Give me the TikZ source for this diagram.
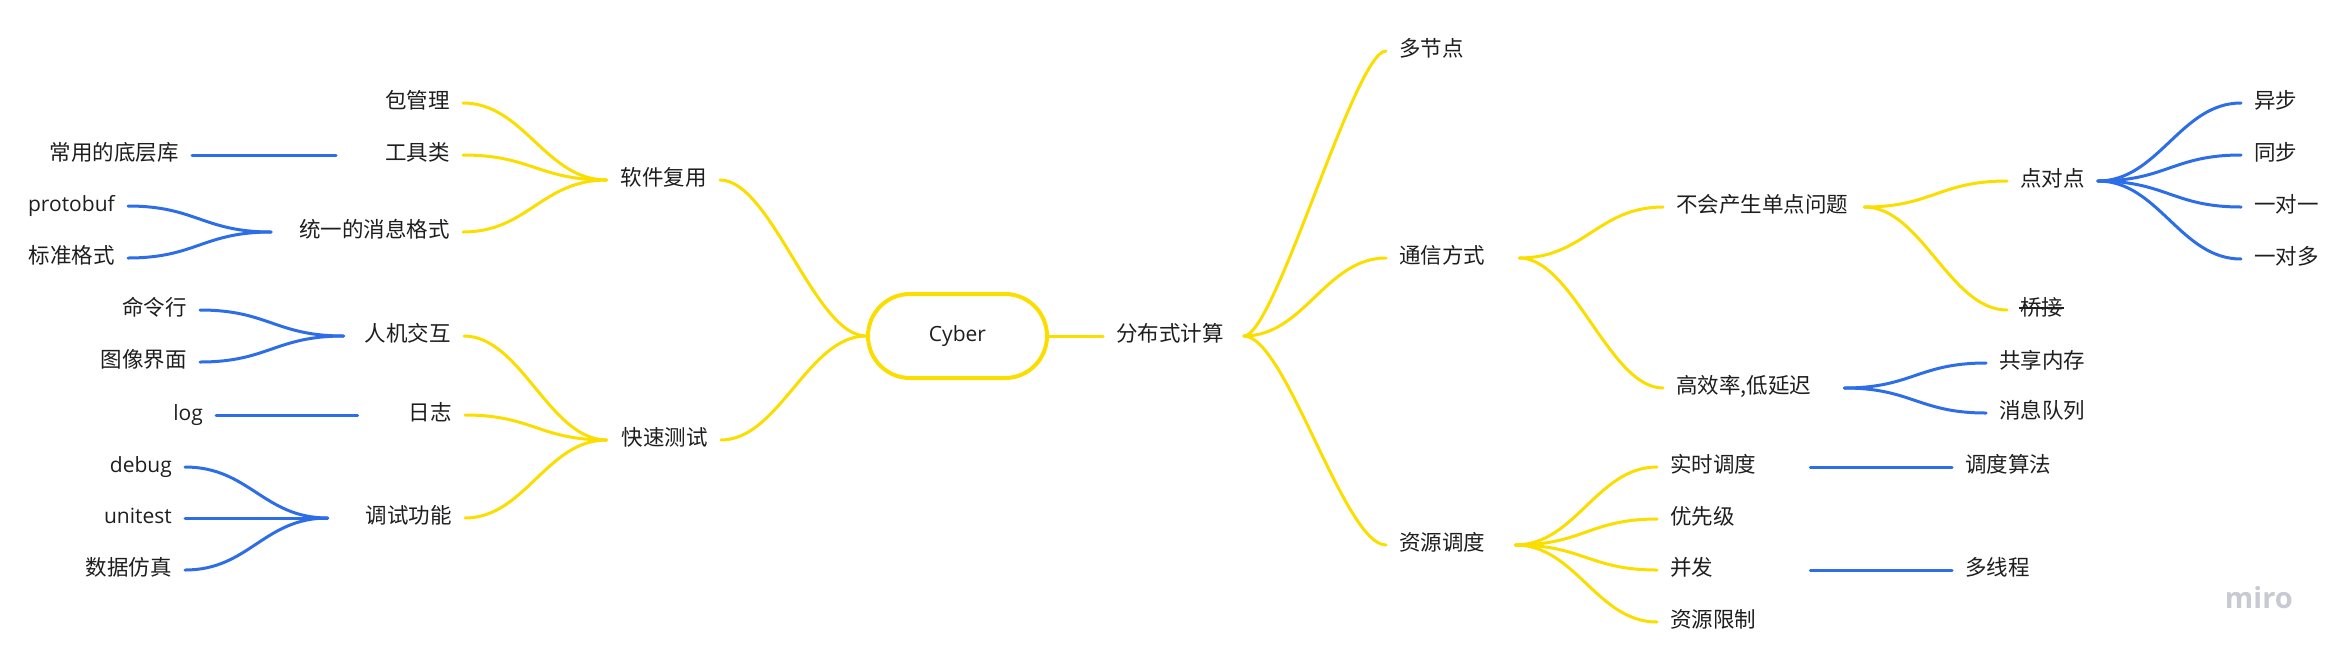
\documentclass[tikz,border=0pt]{standalone}
\usepackage{fontspec}
\usetikzlibrary{calc}
\setmainfont{Open Sans}
\newfontfamily\zhfont{Noto Sans CJK SC}
\definecolor{mmyellow}{RGB}{250,222,0}
\definecolor{mmblue}{RGB}{45,110,232}
\definecolor{mmink}{RGB}{30,30,30}
\definecolor{mmgray}{RGB}{200,201,210}

\begin{document}
\begin{tikzpicture}[x=1pt, y=-1pt,
  every node/.style={inner xsep=13pt, inner ysep=0pt, text height=16.5pt, text depth=5pt, text=mmink},
  zh/.style={font=\zhfont\fontsize{21.5}{26}\selectfont},
  en/.style={font=\fontsize{21}{25}\selectfont},
  hub/.style={en, draw=mmyellow, line width=4pt, rounded corners=42pt, minimum width=179pt, minimum height=84pt},
  yline/.style={draw=mmyellow, line width=3pt, line cap=round},
  bline/.style={draw=mmblue, line width=3pt, line cap=round},
  twig/.style={to path={let \p1=(\tikztostart), \p2=(\tikztotarget),
    \n1={(0.5*abs(\x2-\x1)-0.14*abs(\y2-\y1))*sign(\x2-\x1)} in
    .. controls +(\n1,0) and +(-\n1,0) .. (\tikztotarget) \tikztonodes}}]
\useasboundingbox (0,0) rectangle (2348,665);

% CENTRE
\node[hub] (cyber) at (957.5,336) {Cyber};

% RIGHT: distributed computing
\node[zh, anchor=west] (fenbu) at (1103,336) {分布式计算};
\node[zh, anchor=west] (duojd) at (1386,51) {多节点};
\node[zh, anchor=west] (tongxin) at (1386,258) {通信方式};
\node[zh, anchor=west] (ziyuan) at (1386,545) {资源调度};
\node[zh, anchor=west] (budan) at (1663,207) {不会产生单点问题};
\node[zh, anchor=west] (gaoxiao) at (1663,388) {高效率,低延迟};
\node[zh, anchor=west] (dianduid) at (2007,181) {点对点};
\node[zh, anchor=west] (qiaojie) at (2007,310) {桥接};
\node[zh, anchor=west] (yibu) at (2241,103) {异步};
\node[zh, anchor=west] (tongbu) at (2241,155) {同步};
\node[zh, anchor=west] (yiduiyi) at (2241,207) {一对一};
\node[zh, anchor=west] (yiduiduo) at (2241,259) {一对多};
\node[zh, anchor=west] (gongxiang) at (1986,363) {共享内存};
\node[zh, anchor=west] (xiaoxi) at (1986,413) {消息队列};
\node[zh, anchor=west] (shishi) at (1657,467) {实时调度};
\node[zh, anchor=west] (youxian) at (1657,519) {优先级};
\node[zh, anchor=west] (bingfa) at (1657,570) {并发};
\node[zh, anchor=west] (xianzhi) at (1657,622) {资源限制};
\node[zh, anchor=west] (suanfa) at (1952,467) {调度算法};
\node[zh, anchor=west] (duoxian) at (1952,570) {多线程};

% LEFT: reuse and testing
\node[zh, anchor=east] (ruanjian) at (720,180) {软件复用};
\node[zh, anchor=east] (kuaisu) at (721,440) {快速测试};
\node[zh, anchor=east] (baogl) at (463,103) {包管理};
\node[zh, anchor=east] (gongju) at (463,155) {工具类};
\node[zh, anchor=east] (tongyi) at (463,232) {统一的消息格式};
\node[zh, anchor=east] (renji) at (464,336) {人机交互};
\node[zh, anchor=east] (rizhi) at (465,415) {日志};
\node[zh, anchor=east] (tiaoshi) at (465,518) {调试功能};
\node[zh, anchor=east] (changyong) at (192,155) {常用的底层库};
\node[en, anchor=east] (protobuf) at (128,206) {protobuf};
\node[zh, anchor=east] (biaozhun) at (128,258) {标准格式};
\node[zh, anchor=east] (minglh) at (200,310) {命令行};
\node[zh, anchor=east] (tuxiang) at (200,362) {图像界面};
\node[en, anchor=east] (log) at (216,415) {log};
\node[en, anchor=east] (debug) at (185,467) {debug};
\node[en, anchor=east] (unitest) at (185,518) {unitest};
\node[zh, anchor=east] (shuju) at (185,570) {数据仿真};

% fork points
\coordinate (fenbu-r) at ([xshift=7pt]fenbu.east);
\coordinate (tongxin-r) at ([xshift=21pt]tongxin.east);
\coordinate (ziyuan-r) at ([xshift=17pt]ziyuan.east);
\coordinate (budan-r) at ([xshift=3pt]budan.east);
\coordinate (gaoxiao-r) at ([xshift=20pt]gaoxiao.east);
\coordinate (shishi-r) at ([xshift=41pt]shishi.east);
\coordinate (bingfa-r) at ([xshift=84pt]bingfa.east);
\coordinate (ruanjian-l) at ([xshift=-1pt]ruanjian.west);
\coordinate (kuaisu-l) at ([xshift=-2pt]kuaisu.west);
\coordinate (gongju-l) at ([xshift=-36pt]gongju.west);
\coordinate (tongyi-l) at ([xshift=-15pt]tongyi.west);
\coordinate (renji-l) at ([xshift=-8pt]renji.west);
\coordinate (rizhi-l) at ([xshift=-38pt]rizhi.west);
\coordinate (tiaoshi-l) at ([xshift=-25pt]tiaoshi.west);

% yellow branches
\draw[yline] (cyber.east) -- (fenbu.west);
\draw[yline] (cyber.west) to[twig] (ruanjian.east);
\draw[yline] (cyber.west) to[twig] (kuaisu.east);
\foreach \k in {duojd,tongxin,ziyuan}
  \draw[yline] (fenbu-r) to[twig] (\k.west);
\foreach \k in {budan,gaoxiao}
  \draw[yline] (tongxin-r) to[twig] (\k.west);
\foreach \k in {dianduid,qiaojie}
  \draw[yline] (budan-r) to[twig] (\k.west);
\foreach \k in {shishi,youxian,bingfa,xianzhi}
  \draw[yline] (ziyuan-r) to[twig] (\k.west);
\foreach \k in {baogl,gongju,tongyi}
  \draw[yline] (ruanjian-l) to[twig] (\k.east);
\foreach \k in {renji,rizhi,tiaoshi}
  \draw[yline] (kuaisu-l) to[twig] (\k.east);

% blue branches
\foreach \k in {yibu,tongbu,yiduiyi,yiduiduo}
  \draw[bline] (dianduid.east) to[twig] (\k.west);
\foreach \k in {gongxiang,xiaoxi}
  \draw[bline] (gaoxiao-r) to[twig] (\k.west);
\draw[bline] (shishi-r) -- (suanfa.west);
\draw[bline] (bingfa-r) -- (duoxian.west);
\draw[bline] (gongju-l) -- (changyong.east);
\draw[bline] (rizhi-l) -- (log.east);
\foreach \k in {protobuf,biaozhun}
  \draw[bline] (tongyi-l) to[twig] (\k.east);
\foreach \k in {minglh,tuxiang}
  \draw[bline] (renji-l) to[twig] (\k.east);
\foreach \k in {debug,unitest,shuju}
  \draw[bline] (tiaoshi-l) to[twig] (\k.east);

% struck-out label
\draw[mmink, line width=1.2pt] ([xshift=12pt,yshift=2pt]qiaojie.west) -- ([xshift=-12pt,yshift=2pt]qiaojie.east);

% watermark
\node[font=\bfseries\fontsize{29}{32}\selectfont, text=mmgray, anchor=east] (miro) at (2306,603) {miro};
\end{tikzpicture}
\end{document}
